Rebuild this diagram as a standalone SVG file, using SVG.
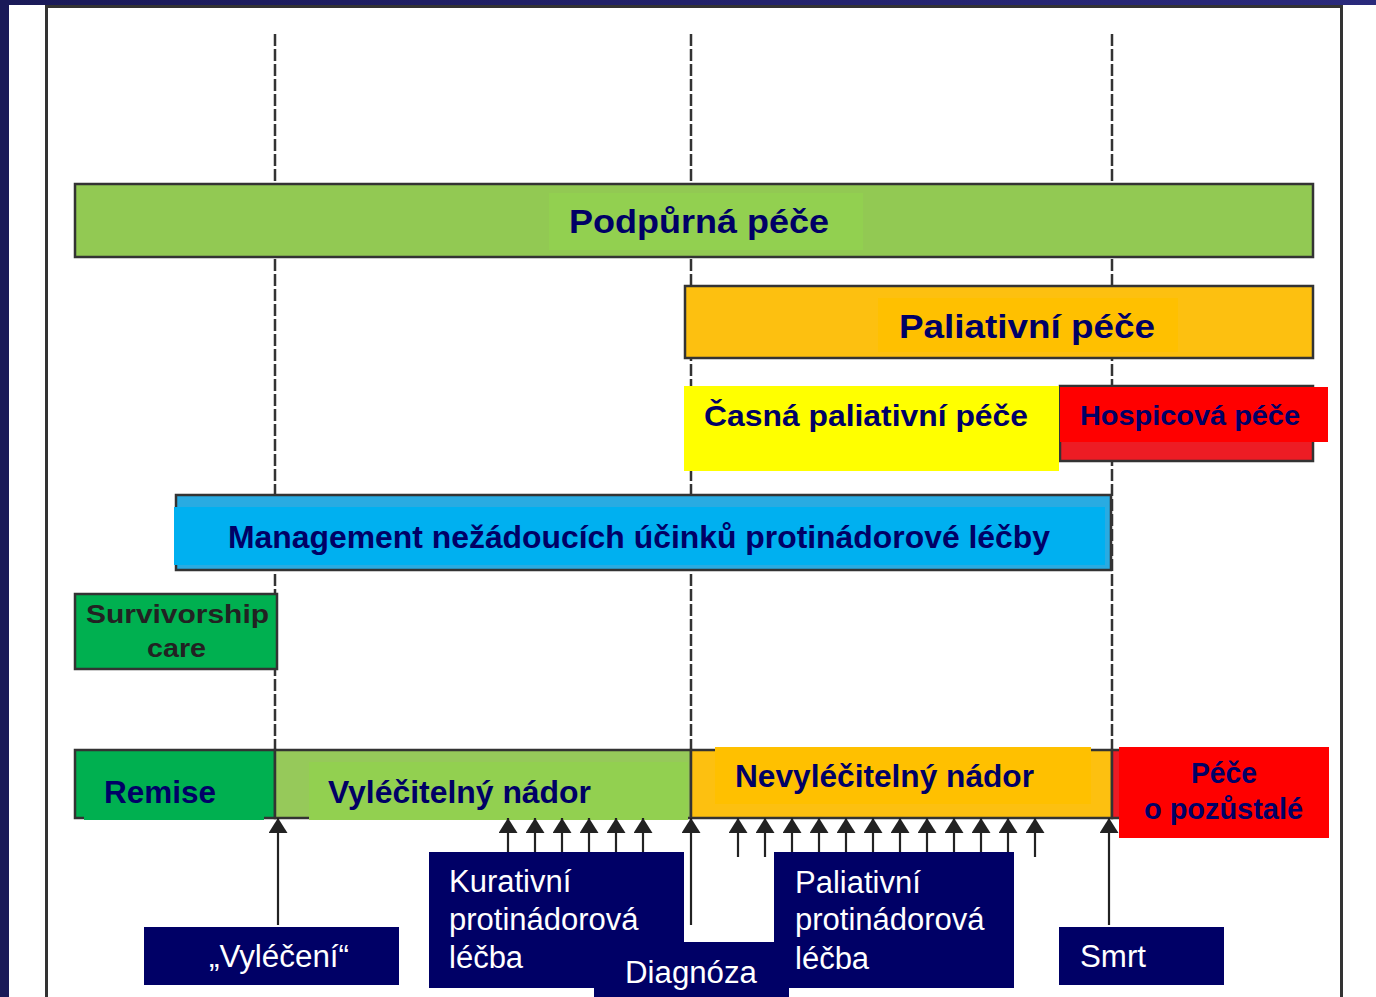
<svg xmlns="http://www.w3.org/2000/svg" width="1376" height="997" viewBox="0 0 1376 997">
<defs>
<linearGradient id="topband" x1="0" y1="0" x2="1" y2="0">
<stop offset="0" stop-color="#1a1a58"/>
<stop offset="1" stop-color="#2a2a7c"/>
</linearGradient>
<marker id="ah" viewBox="0 0 15 19" refX="15" refY="9.5" markerWidth="15" markerHeight="19" markerUnits="userSpaceOnUse" orient="auto">
<path d="M15 9.5 L0 0 L0 19 Z" fill="#222"/>
</marker>
</defs>
<style>
.bar{stroke:#333;stroke-width:2.5}
.dash{stroke:#333;stroke-width:2.5;stroke-dasharray:12 3;fill:none}
.lbl{font-family:"Liberation Sans",Arial,sans-serif;font-weight:bold;fill:#000066}
.dk{fill:#222}
.wt{font-family:"Liberation Sans",Arial,sans-serif;font-size:31px;fill:#ffffff}
.box{fill:#000066}
.arr{stroke:#222;stroke-width:2.2;fill:none}
</style>
<rect x="0" y="0" width="1376" height="997" fill="#ffffff"/>
<rect x="0" y="0" width="1376" height="5" fill="url(#topband)"/>
<rect x="0" y="0" width="9" height="997" fill="#1a1a58"/>
<path d="M46.5 997 V6.5 H1341.5 V997" fill="none" stroke="#333" stroke-width="3"/>

<g id="timelines">
<line class="dash" x1="275" y1="34" x2="275" y2="818"/>
<line class="dash" x1="691" y1="34" x2="691" y2="818"/>
<line class="dash" x1="1112" y1="34" x2="1112" y2="750"/>
</g>

<g id="podpurna">
<rect class="bar" x="75" y="184" width="1238" height="73" fill="#92c953"/>
<rect x="549" y="193" width="314" height="57" fill="#92d050"/>
<text class="lbl" x="569" y="233" font-size="33" textLength="260" lengthAdjust="spacingAndGlyphs">Podpůrná péče</text>
</g>

<g id="paliativni">
<rect class="bar" x="685" y="286" width="628" height="72" fill="#fdc010"/>
<rect x="878" y="298" width="300" height="54" fill="#ffc000"/>
<text class="lbl" x="899" y="338" font-size="33" textLength="256" lengthAdjust="spacingAndGlyphs">Paliativní péče</text>
</g>

<g id="hospicova">
<rect class="bar" x="1060" y="386" width="253" height="75" fill="#ed1c24"/>
<rect x="1060" y="387" width="268" height="55" fill="#ff0000"/>
<text class="lbl" x="1080" y="425" font-size="28" textLength="220" lengthAdjust="spacingAndGlyphs">Hospicová péče</text>
</g>

<g id="casna">
<rect x="684" y="386" width="375" height="85" fill="#ffff00"/>
<text class="lbl" x="704" y="426" font-size="30" textLength="324" lengthAdjust="spacingAndGlyphs">Časná paliativní péče</text>
</g>

<g id="management">
<rect class="bar" x="176" y="495" width="935" height="75" fill="#29abe2"/>
<rect x="174" y="507" width="931" height="58" fill="#00b0f0"/>
<text class="lbl" x="228" y="548" font-size="31" textLength="822" lengthAdjust="spacingAndGlyphs">Management nežádoucích účinků protinádorové léčby</text>
</g>

<g id="survivorship">
<rect class="bar" x="75" y="594" width="202" height="75" fill="#00b050"/>
<text class="lbl dk" x="86" y="623" font-size="26" textLength="183" lengthAdjust="spacingAndGlyphs">Survivorship</text>
<text class="lbl dk" x="147" y="657" font-size="26" textLength="59" lengthAdjust="spacingAndGlyphs">care</text>
</g>

<g id="remise">
<rect class="bar" x="75" y="750" width="200" height="68" fill="#00b050"/>
<rect x="84" y="763" width="180" height="57" fill="#00b050"/>
<text class="lbl" x="104" y="803" font-size="31" textLength="112" lengthAdjust="spacingAndGlyphs">Remise</text>
</g>

<g id="vylecitelny">
<rect class="bar" x="275" y="750" width="416" height="68" fill="#96c95a"/>
<rect x="309" y="762" width="379" height="58" fill="#92d050"/>
<text class="lbl" x="328" y="803" font-size="32" textLength="263" lengthAdjust="spacingAndGlyphs">Vyléčitelný nádor</text>
</g>

<g id="nevylecitelny">
<rect class="bar" x="691" y="750" width="421" height="68" fill="#fdc010"/>
<rect x="715" y="747" width="376" height="57" fill="#ffc000"/>
<text class="lbl" x="735" y="787" font-size="31" textLength="299" lengthAdjust="spacingAndGlyphs">Nevyléčitelný nádor</text>
</g>

<g id="pozustale">
<rect class="bar" x="1112" y="750" width="12" height="68" fill="#ed1c24"/>
<rect x="1119" y="747" width="210" height="91" fill="#ff0000"/>
<text class="lbl" x="1224" y="783" font-size="29" text-anchor="middle" textLength="66" lengthAdjust="spacingAndGlyphs">Péče</text>
<text class="lbl" x="1144" y="819" font-size="29" textLength="159" lengthAdjust="spacingAndGlyphs">o pozůstalé</text>
</g>

<g id="connectors">
<line class="arr" x1="278" y1="925" x2="278" y2="818" marker-end="url(#ah)"/>
<line class="arr" x1="508" y1="852" x2="508" y2="818" marker-end="url(#ah)"/>
<line class="arr" x1="535" y1="852" x2="535" y2="818" marker-end="url(#ah)"/>
<line class="arr" x1="562" y1="852" x2="562" y2="818" marker-end="url(#ah)"/>
<line class="arr" x1="589" y1="852" x2="589" y2="818" marker-end="url(#ah)"/>
<line class="arr" x1="616" y1="852" x2="616" y2="818" marker-end="url(#ah)"/>
<line class="arr" x1="643" y1="852" x2="643" y2="818" marker-end="url(#ah)"/>
<line class="arr" x1="691" y1="925" x2="691" y2="818" marker-end="url(#ah)"/>
<line class="arr" x1="738" y1="857" x2="738" y2="818" marker-end="url(#ah)"/>
<line class="arr" x1="765" y1="857" x2="765" y2="818" marker-end="url(#ah)"/>
<line class="arr" x1="792" y1="852" x2="792" y2="818" marker-end="url(#ah)"/>
<line class="arr" x1="819" y1="852" x2="819" y2="818" marker-end="url(#ah)"/>
<line class="arr" x1="846" y1="852" x2="846" y2="818" marker-end="url(#ah)"/>
<line class="arr" x1="873" y1="852" x2="873" y2="818" marker-end="url(#ah)"/>
<line class="arr" x1="900" y1="852" x2="900" y2="818" marker-end="url(#ah)"/>
<line class="arr" x1="927" y1="852" x2="927" y2="818" marker-end="url(#ah)"/>
<line class="arr" x1="954" y1="852" x2="954" y2="818" marker-end="url(#ah)"/>
<line class="arr" x1="981" y1="852" x2="981" y2="818" marker-end="url(#ah)"/>
<line class="arr" x1="1008" y1="852" x2="1008" y2="818" marker-end="url(#ah)"/>
<line class="arr" x1="1035" y1="857" x2="1035" y2="818" marker-end="url(#ah)"/>
<line class="arr" x1="1109" y1="925" x2="1109" y2="818" marker-end="url(#ah)"/>
</g>

<g id="vyleceni">
<rect class="box" x="144" y="927" width="255" height="58"/>
<text class="wt" x="209" y="967" textLength="140" lengthAdjust="spacingAndGlyphs">„Vyléčení“</text>
</g>

<g id="kurativni">
<rect class="box" x="429" y="852" width="255" height="136"/>
<text class="wt" x="449" y="892">Kurativní</text>
<text class="wt" x="449" y="930">protinádorová</text>
<text class="wt" x="449" y="968">léčba</text>
</g>

<g id="diagnoza">
<rect class="box" x="594" y="942" width="195" height="55"/>
<text class="wt" x="625" y="983" textLength="132" lengthAdjust="spacingAndGlyphs">Diagnóza</text>
</g>

<g id="paliativni-lecba">
<rect class="box" x="774" y="852" width="240" height="136"/>
<text class="wt" x="795" y="893">Paliativní</text>
<text class="wt" x="795" y="930">protinádorová</text>
<text class="wt" x="795" y="969">léčba</text>
</g>

<g id="smrt">
<rect class="box" x="1059" y="927" width="165" height="58"/>
<text class="wt" x="1080" y="967" textLength="66" lengthAdjust="spacingAndGlyphs">Smrt</text>
</g>
</svg>
